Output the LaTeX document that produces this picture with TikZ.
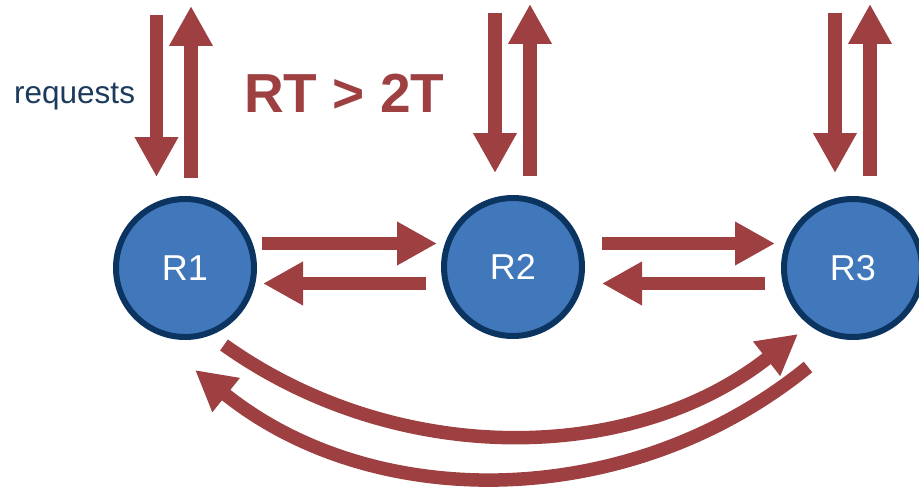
\documentclass[tikz,border=0pt]{standalone}
\usepackage{fontspec}
\setmainfont{Liberation Sans}
\usetikzlibrary{arrows.meta,calc}
\definecolor{arrred}{HTML}{9E4042}
\definecolor{nodefill}{HTML}{4178BC}
\definecolor{nodeedge}{HTML}{0B3560}
\definecolor{txtnavy}{HTML}{1B3A5C}
\tikzset{
  replica/.style={circle, fill=nodefill, draw=nodeedge, line width=6pt,
    minimum size=138pt, inner sep=0pt, text=white,
    font=\fontsize{36}{40}\selectfont},
  bigarrow/.style={draw=arrred, line width=13.5pt,
    -{Triangle[width=41pt,length=40pt]}, arrred},
}
\begin{document}
\begin{tikzpicture}[x=1pt,y=-1pt]
\useasboundingbox (0,0) rectangle (919,487);
% nodes
\node[replica] (R1) at (185,268) {R1};
\node[replica] (R2) at (513,267) {R2};
\node[replica] (R3) at (853,268) {R3};
% labels
\node[anchor=base west, inner sep=0pt, text=txtnavy,
  font=\fontsize{31.5}{35}\selectfont] (req) at (14,103) {requests};
\node[anchor=base west, inner sep=0pt, text=arrred,
  font=\fontsize{55}{60}\selectfont\bfseries] (rt) at (244,113) {RT > 2T};
% vertical arrow end points
\coordinate (d1s) at (156.5,15);  \coordinate (d1e) at (156.5,177);
\coordinate (u1s) at (191,178);   \coordinate (u1e) at (191,6);
\coordinate (d2s) at (495,13);    \coordinate (d2e) at (495,173);
\coordinate (u2s) at (530,176);   \coordinate (u2e) at (530,4);
\coordinate (d3s) at (835,13);    \coordinate (d3e) at (835,173);
\coordinate (u3s) at (870,176);   \coordinate (u3e) at (870,4);
\draw[bigarrow] (d1s) -- (d1e);
\draw[bigarrow] (u1s) -- (u1e);
\draw[bigarrow] (d2s) -- (d2e);
\draw[bigarrow] (u2s) -- (u2e);
\draw[bigarrow] (d3s) -- (d3e);
\draw[bigarrow] (u3s) -- (u3e);
% horizontal arrows
\draw[bigarrow] ($(R1)+(77,-24.5)$) -- ($(R2)+(-76,-23.5)$);
\draw[bigarrow] ($(R2)+(-87,16.5)$) -- ($(R1)+(78,15.5)$);
\draw[bigarrow] ($(R2)+(89,-23.5)$) -- ($(R3)+(-78,-24.5)$);
\draw[bigarrow] ($(R3)+(-88,15.5)$) -- ($(R2)+(89,16.5)$);
% curved arrows (circular arcs)
\draw[bigarrow] ($(R1)+(39,77)$) .. controls (397,468) and (632,465) .. ($(R3)+(-55,66)$);
\draw[bigarrow] ($(R3)+(-45,99)$) .. controls (630,512) and (374,514) .. ($(R1)+(10,102)$);
\end{tikzpicture}
\end{document}
